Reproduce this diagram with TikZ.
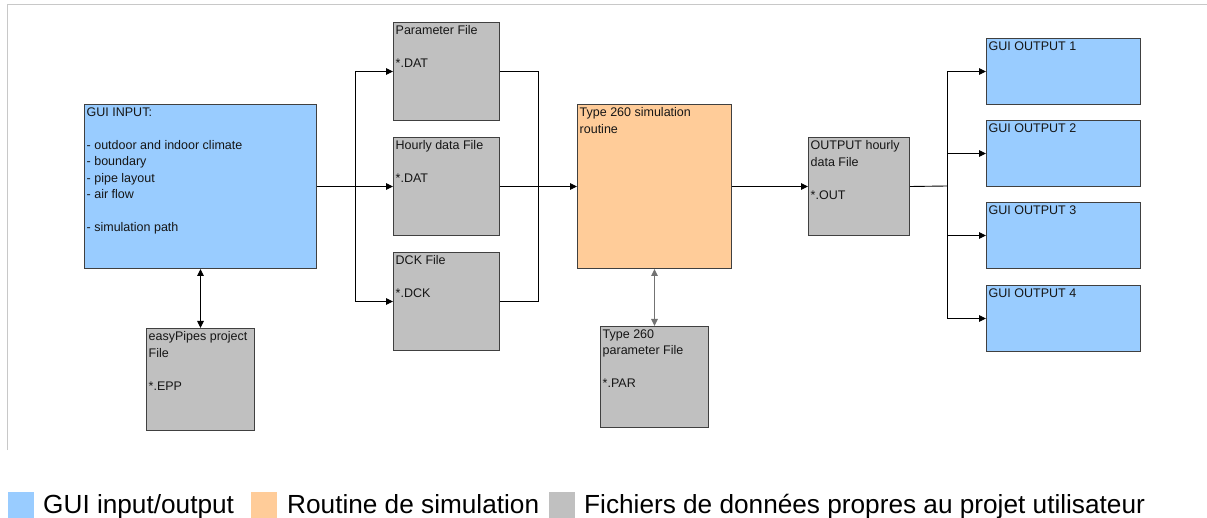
\documentclass[tikz,border=0pt]{standalone}
\usepackage{fontspec}
\setmainfont{Liberation Sans}
\usetikzlibrary{arrows.meta}
\definecolor{guiblue}{HTML}{99CCFF}
\definecolor{simorange}{HTML}{FFCC99}
\definecolor{filegray}{HTML}{C0C0C0}
\definecolor{edgegray}{HTML}{404040}
\definecolor{framegray}{HTML}{C8C8C8}
\definecolor{txtgray}{HTML}{161616}
\tikzset{
  box/.style={draw=edgegray, line width=1pt, rectangle, inner sep=0pt, anchor=north west},
  guibox/.style={box, fill=guiblue},
  simbox/.style={box, fill=simorange},
  filebox/.style={box, fill=filegray},
  boxtext/.style={anchor=north west, align=left, inner xsep=2.5pt, inner ysep=3.5pt,
    font=\fontsize{12.5}{16.5}\selectfont, text=txtgray},
  conn/.style={draw=black, line width=0.9pt},
  arr/.style={conn, -{Triangle[length=7pt,width=6.5pt]}},
  darr/.style={conn, {Triangle[length=7pt,width=6.5pt]}-{Triangle[length=7pt,width=6.5pt]}},
  garr/.style={darr, draw=black!55, line width=1.3pt},
  legsq/.style={rectangle, inner sep=0pt, anchor=north west, minimum width=26pt, minimum height=26pt},
  legtxt/.style={anchor=base west, inner sep=0pt, font=\fontsize{26.2}{30}\selectfont}
}
\begin{document}
\begin{tikzpicture}[x=1pt,y=-1pt]
\useasboundingbox (0,0) rectangle (1207,518);
% partial frame
\draw[framegray, line width=1pt] (7,450) -- (7,5) -- (1207,5);

% GUI input
\node[guibox, minimum width=232pt, minimum height=164pt,
  label={[boxtext]north west:GUI INPUT:\\[16.5pt]- outdoor and indoor climate\\- boundary\\- pipe layout\\- air flow\\[16.5pt]- simulation path}]
  (gi) at (84,104) {};
% easyPipes project file
\node[filebox, minimum width=108pt, minimum height=102pt,
  label={[boxtext]north west:easyPipes project\\File\\[16.5pt]*.EPP}]
  (epp) at (146,328) {};
% file boxes
\node[filebox, minimum width=106pt, minimum height=98pt,
  label={[boxtext]north west:Parameter File\\[16.5pt]*.DAT}]
  (pf) at (393,22) {};
\node[filebox, minimum width=106pt, minimum height=98pt,
  label={[boxtext]north west:Hourly data File\\[16.5pt]*.DAT}]
  (hd) at (393,137) {};
\node[filebox, minimum width=106pt, minimum height=98pt,
  label={[boxtext]north west:DCK File\\[16.5pt]*.DCK}]
  (dck) at (393,252) {};
% simulation routine
\node[simbox, minimum width=154pt, minimum height=164pt,
  label={[boxtext]north west:Type 260 simulation\\routine}]
  (sim) at (577,104) {};
% type 260 parameter file
\node[filebox, minimum width=108pt, minimum height=101pt,
  label={[boxtext]north west:Type 260\\parameter File\\[16.5pt]*.PAR}]
  (par) at (600,326) {};
% output hourly data
\node[filebox, minimum width=101pt, minimum height=98pt,
  label={[boxtext]north west:OUTPUT hourly\\data File\\[16.5pt]*.OUT}]
  (out) at (808,137) {};
% GUI outputs
\node[guibox, minimum width=154pt, minimum height=66pt,
  label={[boxtext]north west:GUI OUTPUT 1}] (o1) at (986,38) {};
\node[guibox, minimum width=154pt, minimum height=66pt,
  label={[boxtext]north west:GUI OUTPUT 2}] (o2) at (986,120) {};
\node[guibox, minimum width=154pt, minimum height=66pt,
  label={[boxtext]north west:GUI OUTPUT 3}] (o3) at (986,202) {};
\node[guibox, minimum width=154pt, minimum height=66pt,
  label={[boxtext]north west:GUI OUTPUT 4}] (o4) at (986,285) {};

% connectors
\coordinate (b1) at (355,186);
\coordinate (m1) at (538,186);
\coordinate (b2) at (947,186);
\draw[arr] (gi.east) -- (hd.west);
\draw[arr] (b1) |- (pf.west);
\draw[arr] (b1) |- (dck.west);
\draw[conn] (pf.east) -| (m1);
\draw[conn] (dck.east) -| (m1);
\draw[arr] (hd.east) -- (sim.west);
\draw[arr] (sim.east) -- (out.west);
\draw[conn] (out.east) -- (b2);
\draw[arr] (b2) |- (o1.west);
\draw[arr] (b2) |- (o2.west);
\draw[arr] (b2) |- (o3.west);
\draw[arr] (b2) |- (o4.west);
\draw[darr] (gi.south) -- (epp.north);
\draw[garr] (sim.south) -- (par.north);

% legend
\node[legsq, fill=guiblue] (lg1) at (8,492) {};
\node[legtxt] (lt1) at (43,513) {GUI input/output};
\node[legsq, fill=simorange] (lg2) at (251,492) {};
\node[legtxt] (lt2) at (287,513) {Routine de simulation};
\node[legsq, fill=filegray] (lg3) at (549,492) {};
\node[legtxt] (lt3) at (584,513) {Fichiers de données propres au projet utilisateur};
\end{tikzpicture}
\end{document}
